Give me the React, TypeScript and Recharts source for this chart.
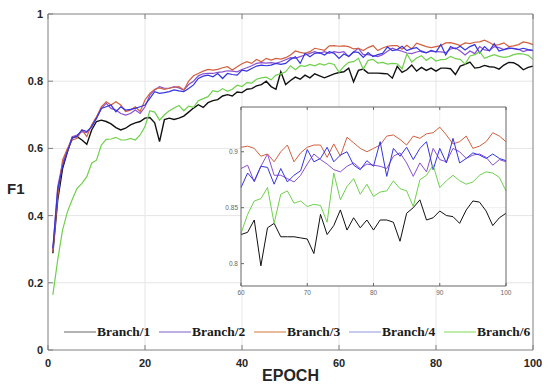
import {
  CartesianGrid,
  Line,
  LineChart,
  XAxis,
  YAxis,
} from "recharts";

// F1 per epoch (epoch 1..100)
const BRANCH_1 = [
  0.288, 0.446, 0.540, 0.590, 0.633, 0.635, 0.625, 0.612, 0.655, 0.680,
  0.684, 0.680, 0.673, 0.662, 0.655, 0.660, 0.670, 0.676, 0.680, 0.690,
  0.692, 0.676, 0.620, 0.686, 0.690, 0.686, 0.690, 0.696, 0.708, 0.720,
  0.730, 0.722, 0.736, 0.742, 0.745, 0.756, 0.760, 0.756, 0.768, 0.766,
  0.776, 0.778, 0.786, 0.790, 0.800, 0.784, 0.776, 0.828, 0.790, 0.802,
  0.812, 0.806, 0.818, 0.810, 0.822, 0.816, 0.810, 0.816, 0.822, 0.826,
  0.828, 0.839, 0.798, 0.832, 0.836, 0.824, 0.824, 0.824, 0.823, 0.822,
  0.809, 0.844, 0.826, 0.834, 0.848, 0.830, 0.841, 0.832, 0.839, 0.830,
  0.839, 0.839, 0.837, 0.820, 0.845, 0.850, 0.857, 0.839, 0.841, 0.847,
  0.843, 0.842, 0.836, 0.848, 0.856, 0.855, 0.847, 0.834, 0.841, 0.845,
];
const BRANCH_2 = [
  0.298, 0.486, 0.556, 0.595, 0.635, 0.640, 0.650, 0.647, 0.665, 0.690,
  0.719, 0.734, 0.719, 0.714, 0.704, 0.699, 0.704, 0.714, 0.704, 0.724,
  0.759, 0.774, 0.784, 0.779, 0.779, 0.784, 0.780, 0.774, 0.790, 0.800,
  0.816, 0.822, 0.823, 0.823, 0.826, 0.828, 0.831, 0.830, 0.828, 0.835,
  0.840, 0.846, 0.853, 0.855, 0.854, 0.855, 0.853, 0.858, 0.864, 0.870,
  0.868, 0.873, 0.878, 0.883, 0.888, 0.883, 0.888, 0.883, 0.888, 0.885,
  0.888, 0.873, 0.887, 0.898, 0.879, 0.879, 0.876, 0.873, 0.879, 0.889,
  0.898, 0.893, 0.889, 0.884, 0.882, 0.887, 0.890, 0.885, 0.889, 0.888,
  0.887, 0.885, 0.896, 0.899, 0.890, 0.878, 0.890, 0.882, 0.903, 0.893,
  0.891, 0.903, 0.900, 0.894, 0.897, 0.898, 0.895, 0.888, 0.893, 0.891,
];
const BRANCH_3 = [
  0.293, 0.456, 0.565, 0.600, 0.625, 0.630, 0.655, 0.635, 0.670, 0.694,
  0.724, 0.739, 0.729, 0.739, 0.729, 0.710, 0.714, 0.724, 0.710, 0.744,
  0.764, 0.776, 0.780, 0.776, 0.779, 0.782, 0.784, 0.774, 0.800, 0.816,
  0.823, 0.830, 0.835, 0.833, 0.835, 0.840, 0.843, 0.833, 0.843, 0.852,
  0.858, 0.853, 0.865, 0.858, 0.868, 0.863, 0.868, 0.866, 0.870, 0.878,
  0.890, 0.886, 0.883, 0.888, 0.898, 0.895, 0.892, 0.905, 0.906, 0.904,
  0.905, 0.903, 0.896, 0.898, 0.891, 0.900, 0.906, 0.891, 0.899, 0.904,
  0.906, 0.906, 0.895, 0.907, 0.896, 0.913, 0.908, 0.903, 0.900, 0.903,
  0.906, 0.914, 0.915, 0.911, 0.906, 0.914, 0.912, 0.916, 0.917, 0.922,
  0.915, 0.907, 0.909, 0.914, 0.903, 0.905, 0.909, 0.917, 0.914, 0.909,
];
const BRANCH_4 = [
  0.303, 0.476, 0.546, 0.590, 0.630, 0.637, 0.655, 0.650, 0.665, 0.690,
  0.719, 0.724, 0.729, 0.709, 0.724, 0.714, 0.716, 0.719, 0.724, 0.729,
  0.749, 0.769, 0.764, 0.766, 0.769, 0.774, 0.771, 0.769, 0.778, 0.789,
  0.808, 0.815, 0.818, 0.813, 0.823, 0.808, 0.823, 0.820, 0.818, 0.833,
  0.830, 0.838, 0.845, 0.848, 0.846, 0.848, 0.853, 0.850, 0.853, 0.865,
  0.873, 0.853, 0.883, 0.873, 0.883, 0.885, 0.878, 0.888, 0.883, 0.868,
  0.881, 0.874, 0.887, 0.886, 0.871, 0.885, 0.873, 0.879, 0.883, 0.902,
  0.891, 0.894, 0.904, 0.891, 0.897, 0.900, 0.888, 0.884, 0.892, 0.887,
  0.909, 0.878, 0.903, 0.896, 0.904, 0.893, 0.903, 0.909, 0.884, 0.903,
  0.890, 0.912, 0.890, 0.894, 0.899, 0.897, 0.894, 0.898, 0.894, 0.892,
];
const BRANCH_6 = [
  0.164, 0.268, 0.357, 0.411, 0.448, 0.481, 0.496, 0.516, 0.556, 0.565,
  0.610, 0.627, 0.628, 0.633, 0.625, 0.625, 0.630, 0.625, 0.640, 0.665,
  0.712, 0.708, 0.684, 0.700, 0.712, 0.720, 0.728, 0.712, 0.726, 0.722,
  0.742, 0.748, 0.754, 0.772, 0.768, 0.778, 0.770, 0.776, 0.788, 0.784,
  0.796, 0.794, 0.806, 0.810, 0.812, 0.804, 0.818, 0.822, 0.828, 0.846,
  0.834, 0.846, 0.844, 0.850, 0.846, 0.852, 0.848, 0.854, 0.850, 0.827,
  0.844, 0.856, 0.858, 0.868, 0.836, 0.862, 0.865, 0.854, 0.856, 0.851,
  0.853, 0.852, 0.837, 0.881, 0.857, 0.869, 0.876, 0.862, 0.871, 0.860,
  0.864, 0.865, 0.874, 0.867, 0.865, 0.851, 0.875, 0.879, 0.888, 0.868,
  0.874, 0.879, 0.874, 0.871, 0.873, 0.879, 0.882, 0.881, 0.877, 0.865,
];

const SERIES_NAMES = ["Branch/1", "Branch/2", "Branch/3", "Branch/4", "Branch/6"];
const SERIES_VALUES = [BRANCH_1, BRANCH_2, BRANCH_3, BRANCH_4, BRANCH_6];
const SERIES_COLORS = ["#111111", "#8a4fd0", "#d0603f", "#3434e0", "#6fd04c"];
const LEGEND_COLORS = ["#9a9a9a", "#a890d8", "#e0a47e", "#b4bae8", "#a8e68e"];

const X_TICKS = [0, 20, 40, 60, 80, 100];
const Y_TICKS = [0, 0.2, 0.4, 0.6, 0.8, 1];
const INSET_X_TICKS = [60, 70, 80, 90, 100];
const INSET_Y_TICKS = [0.8, 0.85, 0.9];

const KEYS = ["b1", "b2", "b3", "b4", "b6"];

const rows = BRANCH_1.map((_, i) => {
  const r: Record<string, number> = { epoch: i + 1 };
  KEYS.forEach((k, s) => (r[k] = SERIES_VALUES[s][i]));
  return r;
});
const insetRows = rows.filter((r) => r.epoch >= 60);

const FRAME = "#808080";
const LABEL = "#262626";
const SANS = "'Liberation Sans', Arial, sans-serif";

const BottomTick = ({ x, y, payload }: any) => (
  <g>
    <line x1={x} y1={y} x2={x} y2={y - 5} stroke={FRAME} />
    <text x={x} y={y + 17} textAnchor="middle" fontSize={11} fontWeight="bold" fill={LABEL} fontFamily={SANS}>
      {payload.value}
    </text>
  </g>
);
const TopTick = ({ x, y }: any) => <line x1={x} y1={y} x2={x} y2={y + 5} stroke={FRAME} />;
const LeftTick = ({ x, y, payload }: any) => (
  <g>
    <line x1={x} y1={y} x2={x + 5} y2={y} stroke={FRAME} />
    <text x={x - 5} y={y + 4} textAnchor="end" fontSize={11} fontWeight="bold" fill={LABEL} fontFamily={SANS}>
      {payload.value}
    </text>
  </g>
);
const RightTick = ({ x, y }: any) => <line x1={x} y1={y} x2={x - 5} y2={y} stroke={FRAME} />;

const InsetBottomTick = ({ x, y, payload }: any) => (
  <g>
    <line x1={x} y1={y} x2={x} y2={y - 3} stroke="#666" />
    <text x={x} y={y + 9} textAnchor="middle" fontSize={6.5} fill="#666" fontFamily={SANS}>
      {payload.value}
    </text>
  </g>
);
const InsetTopTick = ({ x, y }: any) => <line x1={x} y1={y} x2={x} y2={y + 3} stroke="#666" />;
const InsetLeftTick = ({ x, y, payload }: any) => (
  <g>
    <line x1={x} y1={y} x2={x + 3} y2={y} stroke="#666" />
    <text x={x - 3} y={y + 2.5} textAnchor="end" fontSize={6.5} fill="#666" fontFamily={SANS}>
      {payload.value}
    </text>
  </g>
);
const InsetRightTick = ({ x, y }: any) => <line x1={x} y1={y} x2={x - 3} y2={y} stroke="#666" />;

function Legend() {
  return (
    <div
      style={{
        position: "absolute",
        left: 64,
        top: 323,
        display: "flex",
        fontFamily: "'Liberation Serif', 'Times New Roman', serif",
        fontWeight: "bold",
        fontSize: 13.5,
        color: "#1a1a1a",
      }}
    >
      {SERIES_NAMES.map((name, i) => (
        <div key={name} style={{ width: 95, display: "flex", alignItems: "center" }}>
          <svg width={32} height={18}>
            <line x1={0} y1={9} x2={32} y2={9} stroke={LEGEND_COLORS[i]} strokeWidth={1.5} />
          </svg>
          <span style={{ marginLeft: 1 }}>{name}</span>
        </div>
      ))}
    </div>
  );
}

export default function App() {
  return (
    <div style={{ position: "absolute", left: 0, top: 0, width: 550, height: 389, background: "#fff" }}>
      <LineChart width={550} height={389} data={rows} margin={{ top: 10, right: 14, left: 0, bottom: 0 }}>
        <CartesianGrid stroke="#e6e6e6" horizontalValues={[0.2, 0.4, 0.6, 0.8]} verticalValues={[20, 40, 60, 80]} />
        <XAxis
          dataKey="epoch"
          type="number"
          domain={[0, 100]}
          ticks={X_TICKS}
          interval={0}
          height={39}
          tickSize={0}
          tickMargin={0}
          tickLine={false}
          tick={<BottomTick />}
          axisLine={{ stroke: FRAME }}
          label={{ value: "EPOCH", position: "insideBottom", offset: 8, fontSize: 16, fontWeight: "bold", fill: LABEL, fontFamily: SANS }}
        />
        <XAxis
          xAxisId="top"
          orientation="top"
          dataKey="epoch"
          type="number"
          domain={[0, 100]}
          ticks={X_TICKS}
          interval={0}
          height={4}
          tickSize={0}
          tickMargin={0}
          tickLine={false}
          tick={<TopTick />}
          axisLine={{ stroke: FRAME }}
        />
        <YAxis
          type="number"
          domain={[0, 1]}
          ticks={Y_TICKS}
          interval={0}
          width={48}
          tickSize={0}
          tickMargin={0}
          tickLine={false}
          tick={<LeftTick />}
          axisLine={{ stroke: FRAME }}
          label={{ value: "F1", position: "insideLeft", offset: 7, dy: 7, fontSize: 15, fontWeight: "bold", fill: LABEL, fontFamily: SANS }}
        />
        <YAxis
          yAxisId="right"
          orientation="right"
          type="number"
          domain={[0, 1]}
          ticks={Y_TICKS}
          interval={0}
          width={3}
          tickSize={0}
          tickMargin={0}
          tickLine={false}
          tick={<RightTick />}
          axisLine={{ stroke: FRAME }}
        />
        {KEYS.map((k, i) => (
          <Line
            key={k}
            dataKey={k}
            name={SERIES_NAMES[i]}
            stroke={SERIES_COLORS[i]}
            strokeWidth={i === 0 ? 1.4 : 1.2}
            dot={false}
            isAnimationActive={false}
          />
        ))}
      </LineChart>

      <div style={{ position: "absolute", left: 225, top: 104 }}>
        <LineChart width={292} height={194} data={insetRows} margin={{ top: 0, right: 8, left: 0, bottom: 0 }}>
          <CartesianGrid stroke="#eeeeee" fill="#ffffff" fillOpacity={1} horizontalValues={[0.85]} verticalValues={[70, 80, 90]} />
          <XAxis
            dataKey="epoch"
            type="number"
            domain={[60, 100]}
            ticks={INSET_X_TICKS}
            interval={0}
            height={12}
            tickSize={0}
            tickMargin={0}
            tickLine={false}
            tick={<InsetBottomTick />}
            axisLine={{ stroke: "#666" }}
          />
          <XAxis
            xAxisId="top"
            orientation="top"
            dataKey="epoch"
            type="number"
            domain={[60, 100]}
            ticks={INSET_X_TICKS}
            interval={0}
            height={3}
            tickSize={0}
            tickMargin={0}
            tickLine={false}
            tick={<InsetTopTick />}
            axisLine={{ stroke: "#666" }}
          />
          <YAxis
            type="number"
            domain={[0.78, 0.94]}
            ticks={INSET_Y_TICKS}
            interval={0}
            allowDataOverflow
            width={16}
            tickSize={0}
            tickMargin={0}
            tickLine={false}
            tick={<InsetLeftTick />}
            axisLine={{ stroke: "#666" }}
          />
          <YAxis
            yAxisId="right"
            orientation="right"
            type="number"
            domain={[0.78, 0.94]}
            ticks={INSET_Y_TICKS}
            interval={0}
            width={3}
            tickSize={0}
            tickMargin={0}
            tickLine={false}
            tick={<InsetRightTick />}
            axisLine={{ stroke: "#666" }}
          />
          {KEYS.map((k, i) => (
            <Line
              key={k}
              dataKey={k}
              stroke={SERIES_COLORS[i]}
              strokeWidth={1}
              dot={false}
              isAnimationActive={false}
            />
          ))}
        </LineChart>
      </div>

      <Legend />
    </div>
  );
}
